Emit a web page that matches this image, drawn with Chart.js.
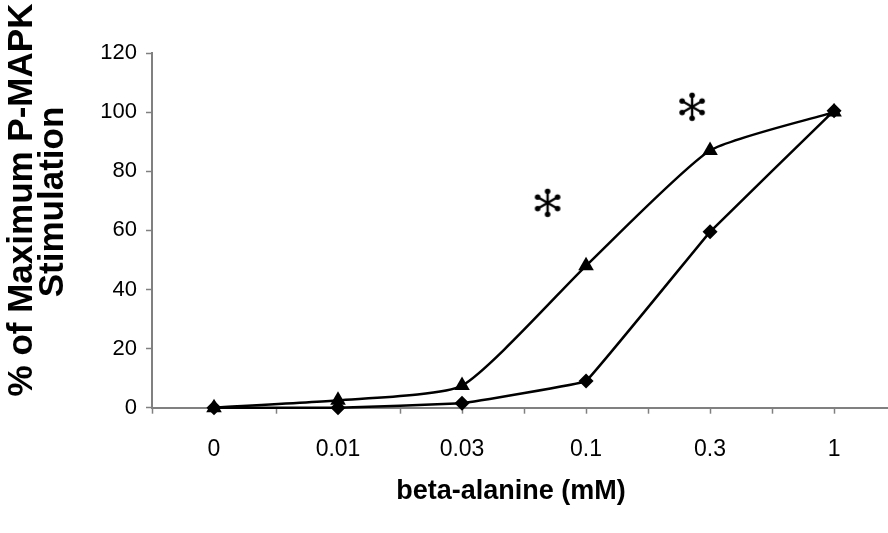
<!DOCTYPE html>
<html>
<head>
<meta charset="utf-8">
<script src="https://cdn.jsdelivr.net/npm/chart.js@4.4.1/dist/chart.umd.min.js"></script>
<style>
  html, body { margin: 0; padding: 0; background: #fff; }
  #chart { display: block; }
</style>
</head>
<body>
<canvas id="chart" width="888" height="533"></canvas>
<script>
// doses of beta-alanine (mM), one category each
var categories = ['0', '0.01', '0.03', '0.1', '0.3', '1'];
// % of maximum P-MAPK stimulation, triangle series
var triangleValues = [0, 2.5, 7.5, 48, 87, 100];
// diamond series
var diamondValues = [0, 0, 1.5, 9, 59.5, 100.5];
// significance marks (category position, value)
var starX = [2.69, 3.855];
var starY = [69.3, 101.8];
var yTicks = [0, 20, 40, 60, 80, 100, 120];

var AXIS_GREY = '#808080';

function toPoints(values) {
    return values.map(function (v, i) { return {x: i, y: v}; });
}

// six armed asterisk with round ends
function makeStar() {
    var c = document.createElement('canvas');
    c.width = 32;
    c.height = 32;
    var g = c.getContext('2d');
    g.strokeStyle = '#000';
    g.fillStyle = '#000';
    g.lineWidth = 2.4;
    g.lineCap = 'round';
    for (var k = 0; k < 3; k++) {
        var a = Math.PI / 2 + k * Math.PI / 3;
        var dx = Math.cos(a) * 11.5, dy = Math.sin(a) * 11.5;
        g.beginPath();
        g.moveTo(16 - dx, 16 - dy);
        g.lineTo(16 + dx, 16 + dy);
        g.stroke();
        g.beginPath();
        g.arc(16 + dx, 16 + dy, 2.8, 0, Math.PI * 2);
        g.fill();
        g.beginPath();
        g.arc(16 - dx, 16 - dy, 2.8, 0, Math.PI * 2);
        g.fill();
    }
    return c;
}

var axisTitles = {
    id: 'axisTitles',
    afterDraw: function (chart) {
        var ctx = chart.ctx;
        ctx.save();
        ctx.fillStyle = '#000';
        ctx.textAlign = 'center';
        ctx.textBaseline = 'middle';
        ctx.font = 'bold 35px "Liberation Sans", Arial, sans-serif';
        ctx.translate(22, 200);
        ctx.rotate(-Math.PI / 2);
        ctx.fillText('% of Maximum P-MAPK', 0, 0);
        ctx.restore();

        ctx.save();
        ctx.fillStyle = '#000';
        ctx.textAlign = 'center';
        ctx.textBaseline = 'middle';
        ctx.font = 'bold 35px "Liberation Sans", Arial, sans-serif';
        ctx.translate(53, 202);
        ctx.rotate(-Math.PI / 2);
        ctx.fillText('Stimulation', 0, 0);
        ctx.restore();

        ctx.save();
        ctx.fillStyle = '#000';
        ctx.textAlign = 'center';
        ctx.textBaseline = 'middle';
        ctx.font = 'bold 27px "Liberation Sans", Arial, sans-serif';
        ctx.fillText('beta-alanine (mM)', 511, 492);
        ctx.restore();
    }
};

var chart = new Chart(document.getElementById('chart').getContext('2d'), {
    type: 'line',
    data: {
        datasets: [
            {
                data: toPoints(diamondValues),
                borderColor: '#000',
                backgroundColor: '#000',
                borderWidth: 2.5,
                tension: 0.04,
                pointStyle: 'rectRot',
                pointRadius: 7.5,
                pointBorderWidth: 0,
                clip: false
            },
            {
                data: toPoints(triangleValues),
                borderColor: '#000',
                backgroundColor: '#000',
                borderWidth: 2.5,
                tension: 0.18,
                pointStyle: 'triangle',
                pointRadius: 9,
                pointBorderWidth: 0,
                clip: false
            },
            {
                type: 'scatter',
                data: starX.map(function (x, i) { return {x: x, y: starY[i]}; }),
                pointStyle: makeStar(),
                showLine: false,
                clip: false
            }
        ]
    },
    options: {
        responsive: false,
        animation: false,
        layout: {autoPadding: false, padding: {top: 53, right: 0, bottom: 0, left: 0}},
        plugins: {
            legend: {display: false},
            tooltip: {enabled: false}
        },
        scales: {
            x: {
                type: 'linear',
                min: -0.5,
                max: 5.435,
                afterBuildTicks: function (scale) {
                    var t = [];
                    for (var v = -0.5; v <= 5.0001; v += 0.5) {
                        t.push({value: v});
                    }
                    scale.ticks = t;
                },
                afterFit: function (scale) {
                    scale.height = 125.3;
                    scale.paddingLeft = 0;
                    scale.paddingRight = 0;
                },
                grid: {
                    drawOnChartArea: false,
                    color: AXIS_GREY,
                    tickLength: 6,
                    tickWidth: 1.5
                },
                border: {color: AXIS_GREY, width: 2},
                ticks: {
                    autoSkip: false,
                    maxRotation: 0,
                    padding: 22,
                    color: '#000',
                    font: {family: '"Liberation Sans", Arial, sans-serif', size: 23},
                    callback: function (value) {
                        return Number.isInteger(value) ? categories[value] : '';
                    }
                }
            },
            y: {
                min: 0,
                max: 120,
                afterBuildTicks: function (scale) {
                    scale.ticks = yTicks.map(function (v) { return {value: v}; });
                },
                afterFit: function (scale) {
                    scale.width = 152;
                    scale.paddingTop = 0;
                    scale.paddingBottom = 0;
                },
                grid: {
                    drawOnChartArea: false,
                    color: AXIS_GREY,
                    tickLength: 6,
                    tickWidth: 1.5
                },
                border: {color: AXIS_GREY, width: 2},
                ticks: {
                    padding: 9,
                    color: '#000',
                    font: {family: '"Liberation Sans", Arial, sans-serif', size: 22}
                }
            }
        }
    },
    plugins: [axisTitles]
});
</script>
</body>
</html>
